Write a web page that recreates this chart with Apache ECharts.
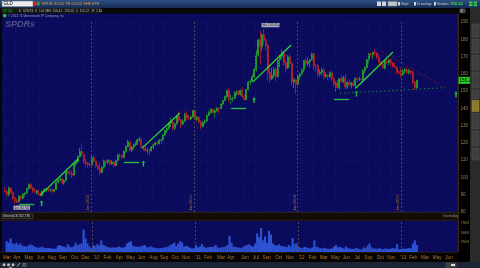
<!DOCTYPE html>
<html><head><meta charset="utf-8">
<style>html,body{margin:0;padding:0;background:#000;}#c{width:480px;height:268px;}</style>
<script src="https://cdn.jsdelivr.net/npm/echarts@6/dist/echarts.min.js"></script>
</head><body><div id="c"></div>
<script>
// ---------------- DATA ----------------
const firstWeek = '2009-03-02';           // weekly bars, one per Monday
// weekly [open, high, low, close]
const weeklyOHLC = [
// 2009
[92.6,94.6,90.8,91.8],[91.8,92.8,88.9,90.2],[90.2,94.8,89.0,93.9],[93.9,94.4,90.6,91.3],[91.3,92.1,86.8,88.1],
[88.1,88.9,84.9,86.4],[86.4,87.9,85.2,85.9],[85.9,89.8,85.4,89.2],[89.2,89.6,86.5,88.0],
[88.0,90.8,87.4,90.4],[90.4,91.3,88.9,91.0],[91.0,93.9,90.6,93.5],[93.5,96.4,92.8,95.9],
[95.9,96.7,93.2,93.9],[93.9,94.5,91.2,92.2],[92.2,93.8,91.0,91.5],[91.5,92.9,90.2,92.3],[92.3,92.8,89.8,90.4],
[90.4,91.2,88.8,89.6],[89.6,92.4,89.2,91.9],[91.9,93.6,91.5,93.1],[93.1,93.9,91.6,93.4],
[93.4,94.5,91.8,92.6],[92.6,93.5,91.9,92.9],[92.9,93.2,90.9,92.1],[92.1,93.4,91.4,93.0],[93.0,97.6,92.8,97.2],
[97.2,99.2,96.4,98.6],[98.6,100.0,97.6,99.1],[99.1,99.6,96.2,97.0],[97.0,98.9,95.8,98.2],
[98.2,103.9,98.0,103.6],[103.6,104.0,101.6,102.5],[102.5,104.3,101.2,102.2],[102.2,104.2,99.8,101.3],
[101.3,108.6,100.6,107.9],[107.9,109.7,106.3,109.1],[109.1,112.8,108.6,112.0],[112.0,117.1,111.5,115.0],[115.0,119.5,112.2,113.6],
[113.6,114.0,107.9,109.0],[109.0,110.9,106.2,108.0],[108.0,108.8,105.6,107.4],[107.4,108.8,106.2,107.3],
// 2010
[107.3,112.4,107.0,111.5],[111.5,112.8,108.9,109.5],[109.5,110.0,105.5,106.6],[106.6,107.6,104.1,105.0],
[105.0,108.6,101.4,102.9],[102.9,106.3,102.4,105.9],[105.9,110.4,105.2,109.4],[109.4,110.1,106.4,108.8],
[108.8,110.6,107.8,110.0],[110.0,110.4,106.8,107.9],[107.9,110.0,107.2,108.9],[108.9,109.6,105.8,106.9],[106.9,110.3,106.3,109.6],
[109.6,113.4,109.2,113.0],[113.0,114.0,110.7,112.8],[112.8,113.4,110.6,111.5],[111.5,115.6,111.2,115.1],
[115.1,118.6,114.2,117.9],[117.9,121.9,117.3,120.6],[120.6,121.0,114.9,115.7],[115.7,118.2,114.6,117.6],[117.6,119.6,116.3,119.0],
[119.0,120.9,118.2,119.5],[119.5,122.3,118.9,121.8],[121.8,123.5,120.4,122.3],[122.3,122.6,116.9,117.8],
[117.8,118.9,115.4,116.8],[116.8,118.8,115.2,115.4],[115.4,117.1,113.8,115.7],[115.7,116.4,112.6,115.4],
[115.4,118.2,115.0,117.6],[117.6,119.3,116.4,118.9],[118.9,120.5,118.4,120.1],[120.1,121.0,118.5,119.6],[119.6,122.2,119.1,121.6],
[121.6,122.3,119.8,121.7],[121.7,124.9,121.3,124.6],[124.6,127.5,123.9,127.2],[127.2,128.9,125.8,128.4],
[128.4,131.9,127.7,131.5],[131.5,134.6,129.2,132.2],[132.2,133.0,127.0,128.5],[128.5,131.5,127.4,131.1],
[131.1,136.0,130.3,135.6],[135.6,138.3,132.0,133.2],[133.2,134.0,128.6,130.9],[130.9,133.6,130.2,132.5],[132.5,137.4,132.0,136.6],
[136.6,138.4,133.4,134.4],[134.4,136.2,133.0,133.9],[133.9,135.8,133.2,135.1],[135.1,138.9,134.6,138.7],
// 2011
[138.7,138.8,133.2,133.6],[133.6,135.6,132.6,134.9],[134.9,135.0,131.4,131.9],[131.9,133.0,127.7,129.5],[129.5,132.6,128.9,132.0],
[132.0,133.6,130.8,132.6],[132.6,136.6,132.4,136.1],[136.1,138.5,135.4,137.4],[137.4,140.2,137.0,139.3],
[139.3,139.8,137.2,137.6],[137.6,139.4,134.6,138.6],[138.6,140.7,138.0,140.0],[140.0,140.4,137.0,139.9],
[139.9,142.9,139.6,142.6],[142.6,144.9,141.7,144.6],[144.6,147.3,144.2,146.9],[146.9,150.8,146.0,150.2],
[150.2,152.1,143.7,145.3],[145.3,147.7,142.4,145.6],[145.6,146.8,143.9,145.8],[145.8,149.7,145.4,149.3],[149.3,150.6,147.4,149.5],
[149.5,150.6,147.6,148.0],[148.0,150.9,147.4,150.4],[150.4,152.3,146.3,146.7],[146.7,147.8,144.7,145.0],
[145.0,151.2,144.9,150.9],[150.9,155.6,150.3,155.2],[155.2,156.7,153.6,155.6],[155.6,159.6,155.0,158.3],
[158.3,163.6,157.4,162.5],[162.5,173.6,161.3,170.8],[170.8,180.3,170.0,179.6],[179.6,185.0,165.5,175.6],[175.6,183.4,173.4,182.6],
[182.6,185.85,176.9,179.4],[179.4,180.2,173.6,176.2],[176.2,177.6,155.9,160.6],[160.6,165.5,154.6,157.0],
[157.0,163.5,156.3,159.0],[159.0,163.8,157.6,162.5],[162.5,163.9,155.8,158.3],[158.3,168.3,157.9,168.0],[168.0,171.2,163.8,170.1],
[170.1,174.1,168.7,172.1],[172.1,173.2,164.8,166.4],[166.4,167.6,160.8,163.4],[163.4,170.9,162.6,169.8],
[169.8,171.3,164.3,166.0],[166.0,166.8,153.3,155.3],[155.3,157.8,151.8,156.6],[156.6,157.2,148.3,153.9],
// 2012
[153.9,159.8,153.4,158.6],[158.6,160.6,156.7,159.9],[159.9,163.2,159.2,162.4],[162.4,167.9,160.9,167.6],[167.6,169.1,164.3,166.0],
[166.0,169.5,164.3,167.1],[167.1,168.6,163.6,168.1],[168.1,172.3,167.8,171.5],[171.5,172.2,162.4,164.7],
[164.7,165.6,161.3,164.6],[164.6,165.7,158.0,160.2],[160.2,162.4,158.5,160.9],[160.9,163.5,159.1,162.1],
[162.1,163.5,156.9,158.5],[158.5,160.9,157.4,159.3],[159.3,159.9,156.4,158.5],[158.5,161.3,157.5,160.6],[160.6,161.8,155.8,157.1],
[157.1,158.0,152.6,153.9],[153.9,155.8,149.5,154.7],[154.7,156.4,151.3,152.0],[152.0,157.6,150.6,157.1],
[157.1,159.3,154.6,155.5],[155.5,158.8,154.6,157.7],[157.7,159.6,150.8,152.4],[152.4,155.5,151.3,155.2],
[155.2,156.6,152.7,153.6],[153.6,155.4,151.6,154.7],[154.7,156.0,152.9,153.3],[153.3,157.8,151.4,157.3],[157.3,158.1,154.7,156.8],
[156.8,158.3,155.9,157.0],[157.0,157.5,155.1,156.9],[156.9,162.8,156.4,161.7],[161.7,164.2,160.4,163.7],
[163.7,168.6,163.0,168.2],[168.2,172.1,166.0,171.4],[171.4,172.4,170.0,171.2],[171.2,172.8,168.6,172.3],
[172.3,174.1,170.7,172.0],[172.0,172.6,168.8,169.5],[169.5,171.1,166.0,166.6],[166.6,167.7,164.6,165.6],[165.6,166.9,162.9,163.3],
[163.3,167.8,162.4,167.3],[167.3,168.9,165.9,166.6],[166.6,168.4,165.0,168.0],[168.0,169.1,164.8,166.2],
[166.2,166.8,163.5,164.4],[164.4,166.5,163.4,163.8],[163.8,164.4,159.7,161.1],[161.1,161.9,159.9,160.3],[160.3,163.2,157.9,159.6],
// 2013
[159.6,162.8,158.8,161.5],[161.5,163.4,160.1,162.3],[162.3,163.6,160.0,160.8],[160.8,162.9,159.7,161.6],
[161.6,162.4,159.6,161.0],[161.0,161.6,154.0,155.2],[155.2,155.9,150.6,151.9],[151.9,156.6,151.5,156.22]
];
// weekly volume, millions of shares
const weeklyVolumeM = [
28,24,35,22,20, 24,18,22,16, 15,14,16,20, 18,14,12,11,12, 14,11,10,10, 10,9,8,9,16, 18,15,14,12, 20,14,12,15, 24,18,20,22,58, 35,22,14,10,
18,15,20,17, 30,18,16,13, 12,11,12,11,12, 14,12,11,13, 22,25,28,16,14, 14,13,15,16, 18,13,12,15, 12,11,10,9,10, 10,12,13,14, 18,20,24,15, 22,28,24,14,16, 14,11,9,10,
18,12,14,20,14, 11,12,13,13, 14,18,12,11, 12,13,14,18, 42,24,14,13,12, 11,10,14,16, 18,20,16,14, 22,48,38,62,30, 40,24,55,45, 22,18,16,20,16, 15,14,12,18, 14,36,20,22,
14,11,10,13,12, 10,9,12,30, 14,12,10,9, 11,9,8,8,9, 14,18,12,13, 11,9,14,10, 9,8,8,10,9, 7,7,12,10, 16,22,12,9, 9,8,10,8,7, 9,8,8,9, 10,9,20,7,8,
9,8,9,10, 9,22,30,18
];
const lastPrice = 156.22;
const hiPoint = ['2011-09-06', 185.85];
const loPoint = ['2009-04-06', 84.90];
const priceTickStep = 10;
const volumeTickValues = [25, 50, 75];
// bottom time-axis labels: [date, text]
const dateTickLabels = [
['2009-03-03','Mar'],['2009-04-07','Apr'],['2009-05-20','May'],['2009-07-01','Jun'],['2009-08-09','Aug'],['2009-09-17','Sep'],
['2009-10-29','Oct'],['2009-12-07','Dec'],['2010-01-15',"'10"],['2010-02-23','Feb'],['2010-04-06','Apr'],['2010-05-15','May'],
['2010-06-23','Jun'],['2010-08-05','Aug'],['2010-09-12','Sep'],['2010-10-21','Oct'],['2010-11-29','Nov'],['2011-01-11',"'11"],
['2011-02-15','Feb'],['2011-04-02','Mar'],['2011-05-07','Apr'],['2011-06-26','Jun'],['2011-08-04','Jul'],['2011-09-11','Sep'],
['2011-10-24','Oct'],['2011-12-02','Nov'],['2012-01-13',"'12"],['2012-02-21','Feb'],['2012-03-31','Mar'],['2012-05-12','May'],
['2012-06-20','Jun'],['2012-07-29','Jul'],['2012-09-06','Sep'],['2012-10-18','Oct'],['2012-11-26','Nov'],['2013-01-08',"'13"],
['2013-02-12','Feb'],['2013-03-26','Mar'],['2013-05-08','May'],['2013-06-19','Jun']
];
const yearSeparators = [['2010-01-01','Jan 2010'],['2011-01-01','Jan 2011'],['2012-01-01','Jan 2012'],['2013-01-01','Jan 2013']];
// drawings (data space)
const trendLines = [
[['2009-07-05',89.8],['2009-11-16',110.7]],
[['2010-06-30',117.0],['2010-11-11',137.3]],
[['2011-07-27',155.3],['2011-12-09',176.7]],
[['2012-07-25',151.8],['2012-12-03',172.6]]
];
const supportSegments = [
[['2009-04-22',84.6],['2009-06-14',84.6]],
[['2010-04-27',108.9],['2010-06-20',108.9]],
[['2011-05-11',140.2],['2011-07-03',140.2]],
[['2012-05-09',145.4],['2012-07-01',145.4]]
];
const upArrows = [['2009-07-10',85.0],['2010-07-05',108.1],['2011-07-31',144.8],['2012-07-27',148.6],['2013-07-14',148.2]];
const dottedGreen = [['2012-05-30',148.7],['2013-06-05',152.0]];
const dottedRed = [['2012-10-25',172.8],['2013-06-05',152.0]];
const axisStart = '2009-02-20', axisEnd = '2013-07-21';

// ---------------- BUILD ----------------
function ts(s){const p=s.split('-').map(Number);return new Date(p[0],p[1]-1,p[2]).getTime();}
const fw = firstWeek.split('-').map(Number);
function weekTs(i){return new Date(fw[0],fw[1]-1,fw[2]+7*i).getTime();}
const UP={color:'#1e9c1e',borderColor:'#27b327'}, DOWN={color:'#b91c1c',borderColor:'#cf2323'};
const candleData = weeklyOHLC.map((r,i)=>({value:[weekTs(i), r[0], r[3], r[2], r[1]],
  itemStyle:Object.assign({borderWidth:0.7}, r[3]>=r[0]?UP:DOWN)}));
const volData = weeklyVolumeM.map((v,i)=>[weekTs(i), v]);
const labelTs = dateTickLabels.map(d=>ts(d[0]));
function labelFor(v){for(let i=0;i<labelTs.length;i++){if(Math.abs(labelTs[i]-v)<43200000)return dateTickLabels[i][1];}return '';}

const GREEN='#2ee02e';
const markLines = [];
yearSeparators.forEach(y=>markLines.push({xAxis:ts(y[0]),lineStyle:{color:'#6a5540',type:[2,2],width:0.8},
  label:{show:true,formatter:y[1],position:'insideStartTop',color:'#a8702e',fontSize:4,distance:1}}));
dateTickLabels.forEach(d=>markLines.push({xAxis:ts(d[0]),lineStyle:{color:'#1e1e74',type:[1,2],width:0.6},label:{show:false}}));
trendLines.forEach(t=>markLines.push([{coord:[ts(t[0][0]),t[0][1]],lineStyle:{color:GREEN,width:1.2,type:'solid'}},{coord:[ts(t[1][0]),t[1][1]]}]));
supportSegments.forEach(t=>markLines.push([{coord:[ts(t[0][0]),t[0][1]],lineStyle:{color:'#25c43c',width:1.3,type:'solid'}},{coord:[ts(t[1][0]),t[1][1]]}]));
markLines.push([{coord:[ts(dottedGreen[0][0]),dottedGreen[0][1]],lineStyle:{color:'#1d7a3c',width:1,type:[1.5,2.5]}},{coord:[ts(dottedGreen[1][0]),dottedGreen[1][1]]}]);
markLines.push([{coord:[ts(dottedRed[0][0]),dottedRed[0][1]],lineStyle:{color:'#8e1c34',width:1,type:[1.5,2.5]}},{coord:[ts(dottedRed[1][0]),dottedRed[1][1]]}]);
markLines.push({yAxis:lastPrice,lineStyle:{color:'rgba(0,0,0,0)',width:0.1,type:'solid'},label:{show:true,position:'end',formatter:String(lastPrice),backgroundColor:'#1fd21f',color:'#000',fontSize:4.5,padding:[1,1],distance:0.5,fontFamily:'Liberation Sans',opacity:1}});

const volMarks = yearSeparators.map(y=>({xAxis:ts(y[0]),lineStyle:{color:'#6a5540',type:[2,2],width:0.8},label:{show:false}}));

const F='Liberation Sans';
function T(x,y,text,fill,size,extra){return {type:'text',x:x,y:y,z:60,style:Object.assign({text:text,fill:fill,fontSize:size,fontFamily:F,verticalAlign:'middle',align:'left'},extra||{})};}
function R(x,y,w,h,fill,stroke,z){return {type:'rect',z:(z===undefined?-5:z),shape:{x:x,y:y,width:w,height:h},style:{fill:fill,stroke:stroke||null,lineWidth:stroke?0.5:0}};}

const chrome = [
  R(0,0,480,268,'#050505',null,-20),
  R(2,13.5,456,198.5,'#0b0b5e',null,-10),
  R(0,212,458,8.5,'#120d07',null,-9),
  {type:'line',z:-8,shape:{x1:0,y1:212.3,x2:458,y2:212.3},style:{stroke:'#3e2c14',lineWidth:0.8}},
  {type:'line',z:-8,shape:{x1:0,y1:220.3,x2:458,y2:220.3},style:{stroke:'#3e2c14',lineWidth:0.6}},
  R(2,220.5,456,31.5,'#0b0b5e',null,-10),
  R(0,252,470,10,'#060403',null,-9),
  {type:'line',z:-8,shape:{x1:0,y1:252.3,x2:458,y2:252.3},style:{stroke:'#3e2c14',lineWidth:0.6}},
  R(458,13,12,249,'#000',null,-9),
  {type:'line',z:-8,shape:{x1:458.3,y1:13,x2:458.3,y2:252},style:{stroke:'#5a3c18',lineWidth:0.8}},
  {type:'rect',z:50,shape:{x:0,y:0,width:480,height:8},style:{fill:new echarts.graphic.LinearGradient(0,0,0,1,[{offset:0,color:'#2d4f82'},{offset:1,color:'#142b52'}])}},
  R(2,1,31,5.6,'#ececec','#777',51), T(3.5,3.9,'GLD','#000',4.5),
  R(34,1.6,2.6,4,'#c83030',null,51), R(37,1.6,2.6,4,'#3a9a3a',null,51),
  T(42,4,'SPDR GOLD TR GOLD SHS ETF','#e8a64a',3.8),
  R(377,1.5,4,4.5,'#cfd6df',null,51), R(382,1.5,4,4.5,'#cfd6df',null,51), R(388,1.5,9,4.5,'#bfc5cc','#888',51),
  R(398,2,2,3.5,'#cfd6df',null,51), T(401,4,'Style','#c8ccd2',3.5),
  R(414,2,2,3.5,'#cfd6df',null,51), T(417,4,'Drawings','#c8ccd2',3.5),
  R(434,2,2,3.5,'#cfd6df',null,51), T(437,4,'Studies','#c8ccd2',3.5),
  T(450,4,'156.22','#3ae33a',4.2,{fontWeight:'bold'}),
  R(469,1.5,3.5,2,'#2fcf3f',null,51), R(473.5,1.5,3.5,2,'#2fcf3f',null,51), R(469,4.2,3.5,2,'#2fcf3f',null,51), R(473.5,4.2,3.5,2,'#2fcf3f',null,51),
  R(0,8,470,5.6,'#070707',null,50),
  R(2,8.5,15,4.6,'#0d1a0d','#3a3a3a',51), T(3,10.9,'4Y 1D','#3ad23a',3.4),
  R(18,8.5,15,4.6,'#0b0b0b','#3a3a3a',51), T(18.8,10.9,'D: 3/28/13','#c4c4c4',3.1),
  R(34,8.5,13.5,4.6,'#0b0b0b','#3a3a3a',51), T(34.8,10.9,'O: 154.96','#c4c4c4',3.1),
  R(48,8.5,11,4.6,'#0b0b0b','#3a3a3a',51), T(48.6,10.9,'H: 156.4','#c4c4c4',3.1),
  R(60,8.5,14,4.6,'#0b0b0b','#3a3a3a',51), T(60.8,10.9,'L: 153.55','#c4c4c4',3.1),
  R(75,8.5,15.5,4.6,'#0b0b0b','#3a3a3a',51), T(75.8,10.9,'C: 156.22','#c4c4c4',3.1),
  R(91.5,8.5,9.5,4.6,'#0b0b0b','#3a3a3a',51), T(92.2,10.9,'R: 2.45','#c4c4c4',3.1),
  R(459.5,8.6,6,4.6,'#4a4a4a',null,51), T(460.6,10.9,'Z','#e0e0e0',3.6),
  {type:'circle',z:55,shape:{cx:4.7,cy:15.6,r:1.9},style:{fill:'#2fbf2f'}},
  T(8,15.8,'\u00A9 2013 TD Ameritrade IP Company, Inc.','#9c9cb4',3.2),
  T(5,25,'SPDRs','#5e5e92',9,{fontWeight:'bold',fontStyle:'italic',opacity:0.85}),
  R(2,214.2,11,4.4,'#161616','#5a5a5a',51), T(2.8,216.5,'Volume','#cfcfcf',3.2),
  R(13,214.2,20,4.4,'#161616','#5a5a5a',51), T(14,216.5,'18,162,736','#cfcfcf',3.2),
  T(443,216.5,'VolumeAvg','#8a8a8a',3),
  R(470,8,10,260,'#2a2a2a',null,50),
  R(472,24,7,13,'#3e3e3e','#5a5a5a',51), R(472,39,7,14,'#3e3e3e','#5a5a5a',51), R(472,55,7,15,'#3e3e3e','#5a5a5a',51),
  R(472,72,7,16,'#3e3e3e','#5a5a5a',51), R(472,90,7,9,'#3e3e3e','#5a5a5a',51), R(472,100.5,7,11,'#8c7a2c','#a89040',51),
  R(472,113,7,16,'#3e3e3e','#5a5a5a',51), R(472,131,7,15,'#3e3e3e','#5a5a5a',51), R(472,148,7,12,'#3e3e3e','#5a5a5a',51),
  R(0,262,480,6,'#1c2535',null,50),
  {type:'circle',z:55,shape:{cx:4,cy:264.8,r:1.5},style:{fill:'#b6bcc8'}},
  {type:'circle',z:55,shape:{cx:8.5,cy:264.8,r:1.5},style:{fill:'#b6bcc8'}},
  {type:'circle',z:55,shape:{cx:13,cy:264.8,r:1.5},style:{fill:'#b6bcc8'}},
  {type:'line',z:55,shape:{x1:17,y1:266.5,x2:20,y2:263},style:{stroke:'#c8ccd4',lineWidth:0.8}},
  R(23,263.3,3,3,'#444','#888',55),
  R(9,266.8,3,1.2,'#d08a20',null,55),
  R(446,263,10,4,'#3a3a3a','#666',55), R(451,264,4,2,'#ddd',null,56)
];

const chart = echarts.init(document.getElementById('c'), null, {renderer:'canvas'});
chart.setOption({
  animation:false,
  backgroundColor:'#050505',
  graphic:{elements:chrome},
  grid:[
    {left:2, width:456, top:22, height:190},
    {left:2, width:456, top:221, height:31}
  ],
  xAxis:[
    {type:'time', gridIndex:0, min:ts(axisStart), max:ts(axisEnd), axisLabel:{show:false}, axisTick:{show:false}, axisLine:{show:false}, splitLine:{show:false}},
    {type:'value', gridIndex:1, min:ts(axisStart), max:ts(axisEnd), axisTick:{show:false}, axisLine:{show:false}, splitLine:{show:false},
      axisLabel:{show:true, customValues:labelTs, formatter:function(v){return labelFor(v);}, color:'#b8762e', fontSize:4.6, fontFamily:F, margin:3.5, hideOverlap:false}}
  ],
  yAxis:[
    {type:'value', gridIndex:0, position:'right', min:80, max:190, interval:priceTickStep,
      axisLine:{show:false}, axisTick:{show:false},
      axisLabel:{color:'#9a8058', fontSize:4.6, fontFamily:F, margin:2.5},
      splitLine:{show:true, lineStyle:{color:'#1c1c72', width:0.6, type:[1,2]}}},
    {type:'value', gridIndex:1, position:'right', min:0, max:80, interval:25,
      axisLine:{show:false}, axisTick:{show:false},
      axisLabel:{color:'#9a8058', fontSize:4.2, fontFamily:F, margin:2.5, formatter:function(v){return volumeTickValues.indexOf(v)>=0 ? v+'M' : '';}},
      splitLine:{show:false}}
  ],
  series:[
    {type:'candlestick', name:'GLD', xAxisIndex:0, yAxisIndex:0, data:candleData, barWidth:1.5,
      itemStyle:{color:'#1e9c1e', color0:'#b91c1c', borderColor:'#27b327', borderColor0:'#cf2323', borderWidth:0.7},
      emphasis:{disabled:true},
      markLine:{silent:true, symbol:['none','none'], animation:false, precision:2, data:markLines}},
    {type:'scatter', name:'arrows', xAxisIndex:0, yAxisIndex:0, silent:true,
      symbol:'path://M5,0 L10,5 L7,5 L7,12 L3,12 L3,5 L0,5 Z', symbolSize:[3.6,6],
      itemStyle:{color:'#22e82a'}, data:upArrows.map(a=>[ts(a[0]),a[1]])},
    {type:'scatter', name:'hilo', xAxisIndex:0, yAxisIndex:0, silent:true, symbolSize:0,
      data:[
        {value:[ts(hiPoint[0]),hiPoint[1]], label:{show:true, position:'top', distance:2, offset:[6,0], formatter:'Hi: '+hiPoint[1].toFixed(2)}},
        {value:[ts(loPoint[0]),loPoint[1]], label:{show:true, position:'bottom', distance:2, offset:[7,0], formatter:'Lo: '+loPoint[1].toFixed(2)}}
      ],
      label:{backgroundColor:'#d4d4d4', color:'#111', fontSize:3.4, fontFamily:F, padding:[0.6,1.2], borderRadius:0.5}},
    {type:'bar', name:'Volume', xAxisIndex:1, yAxisIndex:1, data:volData, barWidth:2.1,
      itemStyle:{color:'#2d53d2'},
      markLine:{silent:true, symbol:['none','none'], animation:false, data:volMarks}}
  ]
});
</script></body></html>
